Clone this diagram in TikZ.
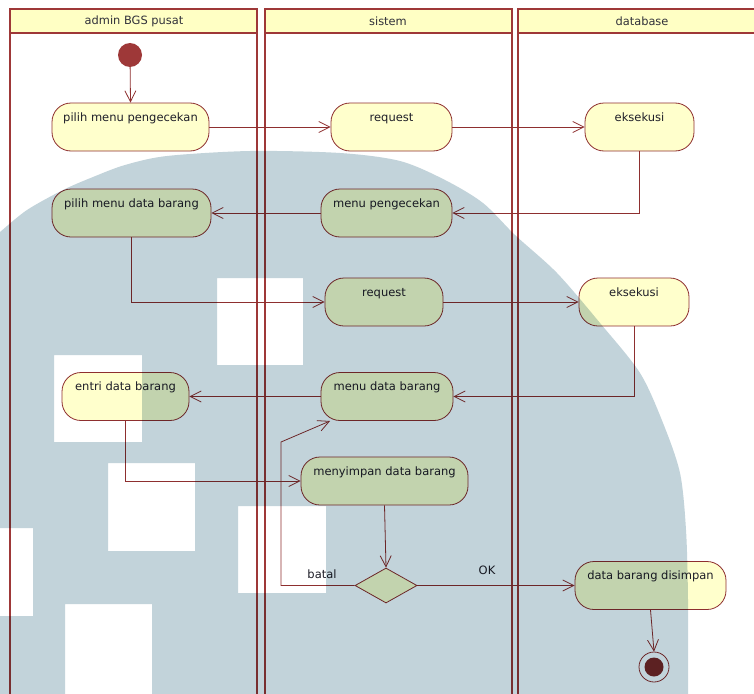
\documentclass[tikz,border=0pt]{standalone}
\usepackage{fontspec}
\setmainfont{DejaVu Sans}
\usetikzlibrary{arrows.meta,shapes.geometric}
\definecolor{laneC}{HTML}{9E3838}
\definecolor{edgeC}{HTML}{8E2F2F}
\definecolor{nodeFill}{HTML}{FFFFCC}
\definecolor{headFill}{HTML}{FFFFC4}
\definecolor{wmC}{HTML}{C2D3DA}
\definecolor{txtC}{HTML}{1E1E28}
\tikzset{
  lane/.style={draw=laneC, line width=2pt},
  head/.style={draw=laneC, line width=2pt, fill=headFill},
  act/.style={draw=edgeC, line width=0.8pt, fill=nodeFill, rounded corners=19pt,
    inner sep=0pt, minimum height=48pt, text height=18pt, text depth=30pt,
    align=center, font=\fontsize{11.5}{13}\selectfont, text=txtC},
  dec/.style={diamond, draw=edgeC, line width=0.8pt, fill=nodeFill, inner sep=0pt,
    minimum width=62pt, minimum height=35pt},
  flow/.style={draw=edgeC, line width=0.8pt, -{Straight Barb[length=11pt,width=11pt,line width=0.8pt]}},
  lbl/.style={font=\fontsize{11.5}{13}\selectfont, text=txtC, inner sep=0pt},
  htxt/.style={font=\fontsize{11.4}{13}\selectfont, text=txtC!80!gray, inner sep=0pt}
}
\begin{document}
\begin{tikzpicture}[x=1pt,y=-1pt]
\useasboundingbox (0,0) rectangle (754,693);
\clip (0,0) rectangle (754,693);
\fill[white] (0,0) rectangle (754,693);
% swimlanes
\draw[lane] (10,9) rectangle (257,720);
\draw[lane] (265,9) rectangle (512,720);
\draw[lane] (518,9) rectangle (766,720);
\draw[head] (10,9) rectangle (257,33);
\draw[head] (265,9) rectangle (512,33);
\draw[head] (518,9) rectangle (766,33);
\node[htxt] (h1) at (134,21) {admin BGS pusat};
\node[htxt] (h2) at (388,21) {sistem};
\node[htxt] (h3) at (642,21) {database};
% start / end
\node[circle, fill=laneC, minimum size=24pt, inner sep=0pt] (start) at (130,55) {};
\node[circle, draw=edgeC, line width=0.8pt, minimum size=30pt, inner sep=0pt, fill=white] (end) at (654,667) {};
\node[circle, fill=edgeC!85!black, minimum size=19pt, inner sep=0pt] (endin) at (654,667) {};
% activities
\node[act, minimum width=157pt] (n1) at (130.5,127) {pilih menu pengecekan};
\node[act, minimum width=121pt] (n2) at (391.5,127) {request};
\node[act, minimum width=109pt] (n3) at (639.5,127) {eksekusi};
\node[act, minimum width=159pt] (n4) at (131.5,213) {pilih menu data barang};
\node[act, minimum width=131pt] (n5) at (386.5,213) {menu pengecekan};
\node[act, minimum width=118pt] (n6) at (384,302) {request};
\node[act, minimum width=110pt] (n7) at (634,302) {eksekusi};
\node[act, minimum width=127pt] (n8) at (125.5,396.5) {entri data barang};
\node[act, minimum width=132pt] (n9) at (387,396.5) {menu data barang};
\node[act, minimum width=167pt] (n10) at (384.5,481) {menyimpan data barang};
\node[act, minimum width=151pt] (n11) at (650.5,585.5) {data barang disimpan};
\node[dec] (d) at (386,585.5) {};
% connectors
\draw[flow] (start) -- (n1.north);
\draw[flow] (n1.east) -- (n2.west);
\draw[flow] (n2.east) -- (n3.west);
\draw[flow] (n3.south) |- (n5.east);
\draw[flow] (n5.west) -- (n4.east);
\draw[flow] (n4.south) |- (n6.west);
\draw[flow] (n6.east) -- (n7.west);
\draw[flow] (n7.south) |- (n9.east);
\draw[flow] (n9.west) -- (n8.east);
\draw[flow] (n8.south) |- (n10.west);
\draw[flow] (n10.south) -- (d.north);
\coordinate (bk) at (281,442);
\coordinate (bkend) at (330,421);
\draw[flow] (d.west) -| (bk) -- (bkend);
\draw[flow] (d.east) -- (n11.west);
\draw[flow] (n11.south) -- (end.north);
\node[lbl] (lb) at (322,574) {batal};
\node[lbl] (lo) at (487,570) {OK};
% watermark
\begin{scope}[blend mode=multiply]
\fill[wmC, even odd rule]
  plot[smooth] coordinates {(-5,236) (0,232) (27,210) (63,190) (93,177) (125,165) (167,156) (250,151) (340,153) (400,161) (445,180) (483,203) (515,235) (557,273) (600,323) (640,373) (663,423) (680,473) (686,530) (688,600) (688,700)}
  -- (-5,700) -- cycle
  (217,278) rectangle (303,365)
  (54,355) rectangle (142,442)
  (108,463) rectangle (195,551)
  (238,506) rectangle (326,593)
  (-10,528) rectangle (33,616)
  (65,604) rectangle (152,700);
\end{scope}
\end{tikzpicture}
\end{document}
